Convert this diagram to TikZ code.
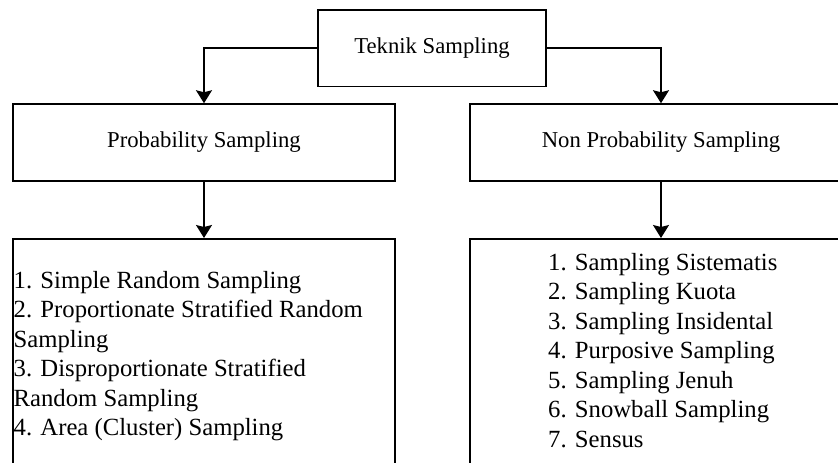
\documentclass[tikz,border=0pt]{standalone}
\usepackage{fontspec}
\setmainfont{LiberationSerif}[Extension=.ttf, UprightFont=*-Regular, BoldFont=*-Bold]
\usetikzlibrary{arrows.meta,positioning}
\tikzset{
  box/.style={draw, line width=1.5pt, inner sep=0pt},
  head/.style={box, font=\fontsize{22.7}{27}\selectfont},
  items/.style={align=left, inner sep=0pt, font=\fontsize{24.7}{29.5}\selectfont},
  arr/.style={draw, line width=1.5pt, -{Stealth[length=13pt, width=16pt, inset=2pt]}}
}

\begin{document}
\begin{tikzpicture}[x=1pt, y=-1pt]
\useasboundingbox (0,0) rectangle (838,463);
\clip (0,0) rectangle (838,463);
% heads
\node[head, minimum width=228pt, minimum height=76.5pt] (teknik) at (432,48) {Teknik Sampling};
\node[head, minimum width=382pt, minimum height=77pt] (prob) at (204,142.5) {Probability Sampling};
\node[head, minimum width=382pt, minimum height=77pt] (nonprob) at (661,142.5) {Non Probability Sampling};
% list boxes
\node[box, anchor=north, minimum width=382pt, minimum height=240pt] (probbox) at (204,238) {};
\node[box, anchor=north, minimum width=382pt, minimum height=240pt] (nonbox) at (661,238) {};
\node[items, anchor=north west] (problist) at (13.5,271) {1. Simple Random Sampling\\2. Proportionate Stratified Random\\Sampling\\3. Disproportionate Stratified\\Random Sampling\\4. Area (Cluster) Sampling};
\node[items, anchor=north west] (nonlist) at (548,253) {1. Sampling Sistematis\\2. Sampling Kuota\\3. Sampling Insidental\\4. Purposive Sampling\\5. Sampling Jenuh\\6. Snowball Sampling\\7. Sensus};
% connectors
\draw[arr] (teknik.west) -| (prob.north);
\draw[arr] (teknik.east) -| (nonprob.north);
\draw[arr] (prob.south) -- (probbox.north);
\draw[arr] (nonprob.south) -- (nonbox.north);
\end{tikzpicture}
\end{document}
